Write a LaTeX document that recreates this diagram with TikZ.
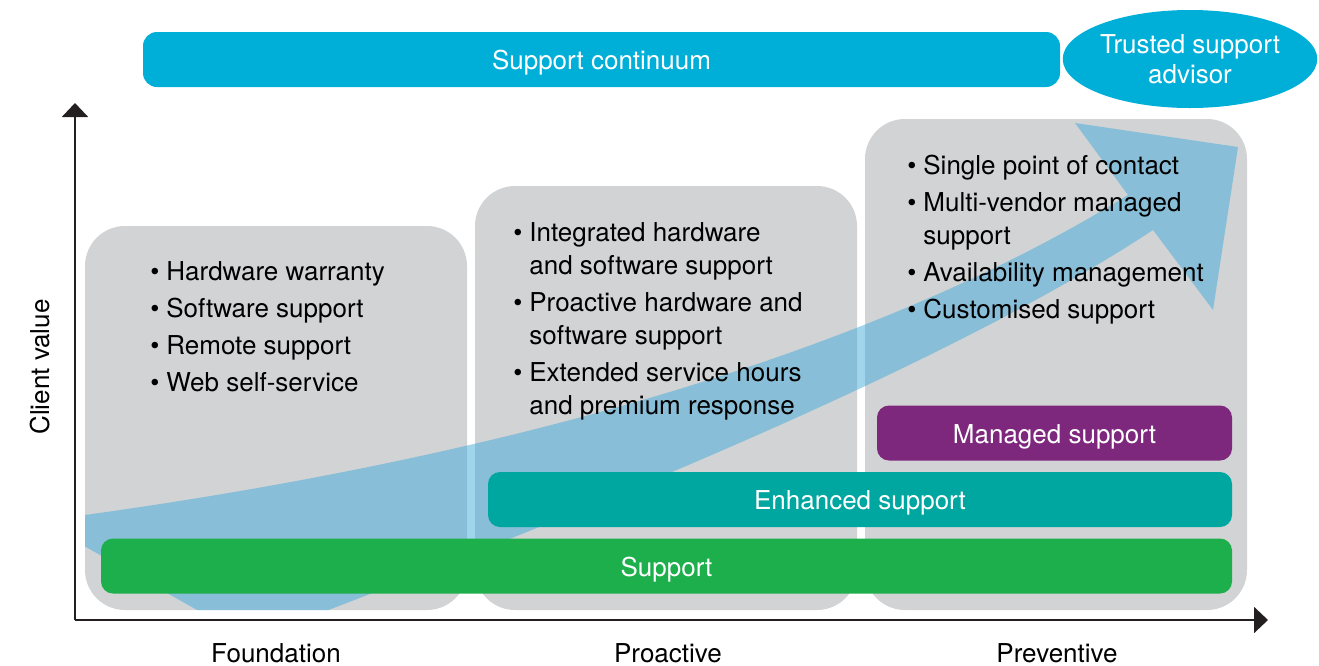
\documentclass[tikz,border=0pt]{standalone}
\usepackage{fontspec}
\setmainfont{TeX Gyre Heros}
\usetikzlibrary{shapes,arrows.meta,positioning}

\definecolor{boxgray}{HTML}{D1D3D4}
\definecolor{cyanbar}{HTML}{00AFD8}
\definecolor{greenbar}{HTML}{1DAF4B}
\definecolor{tealbar}{HTML}{00A6A0}
\definecolor{purplebar}{HTML}{7D287D}
\definecolor{flowblue}{RGB}{65,171,218}
\definecolor{axisgray}{HTML}{231F20}

\newcommand{\stagebullet}{\llap{\textbullet\hspace{3.5pt}}}

\begin{document}
\begin{tikzpicture}[x=0.5pt,y=-0.5pt,
		every node/.style={font=\fontsize{13}{16.5}\selectfont},
		stage/.style={fill=boxgray, rounded corners=20pt, minimum width=191pt, inner sep=0pt},
		bar/.style={rounded corners=6pt, text=white, minimum height=27.5pt, inner sep=0pt, text height=12pt, text depth=2pt},
		items/.style={anchor=base west, align=left, inner sep=0pt},
		axis/.style={draw=axisgray, line width=1pt, -{Triangle[length=7pt,width=13pt]}}]
		\useasboundingbox (0,0) rectangle (1319,665);

		% stages
		\node[stage, minimum height=192pt] (box1) at (276,418) {};
		\node[stage, minimum height=212pt] (box2) at (666,398) {};
		\node[stage, minimum height=245.5pt] (box3) at (1056,364.5) {};

		% growing value arrow
		\begin{scope}
			\clip[rounded corners=20pt] (85,119) rectangle (1247,610);
			\fill[flowblue, fill opacity=0.5] (40,521) .. controls (450,468) and (850,367) .. (1128,195)
				-- (1075,123) -- (1238,147) -- (1213,310) -- (1153,230)
				.. controls (950,364) and (600,507) .. (250,640) -- cycle;
		\end{scope}

		% lists (anchored at the last line)
		\node[items] (list1) at (166,391) {\stagebullet Hardware warranty\\[2pt]
			\stagebullet Software support\\[2pt]
			\stagebullet Remote support\\[2pt]
			\stagebullet Web self-service};
		\node[items] (list2) at (529,414) {\stagebullet Integrated hardware\\and software support\\[2pt]
			\stagebullet Proactive hardware and\\software support\\[2pt]
			\stagebullet Extended service hours\\and premium response};
		\node[items] (list3) at (923,318) {\stagebullet Single point of contact\\[2pt]
			\stagebullet Multi-vendor managed\\support\\[2pt]
			\stagebullet Availability management\\[2pt]
			\stagebullet Customised support};

		% levels
		\node[bar, fill=greenbar, minimum width=565.5pt] (support) at (666.5,566) {Support};
		\node[bar, fill=tealbar, minimum width=372pt] (enhanced) at (860,499.5) {Enhanced support};
		\node[bar, fill=purplebar, minimum width=177.5pt] (managed) at (1054.5,433) {Managed support};

		\node[bar, fill=cyanbar, rounded corners=7pt, minimum width=458.5pt] (continuum) at (601.5,59.5) {Support continuum};
		\node[ellipse, fill=cyanbar, text=white, minimum width=118.5pt, minimum height=49pt, inner sep=0pt,
			align=center, font=\fontsize{13}{15}\selectfont] (advisor) at (1190,59) {Trusted support\\advisor};

		% axes
		\coordinate (origin) at (75,620);
		\coordinate (ytip) at (75,103);
		\coordinate (xtip) at (1268,620);
		\draw[axis] (origin.center) -- (ytip);
		\draw[axis] (origin.center) -- (xtip);
		\node[rotate=90] (yname) at (40,367) {Client value};
		\node[anchor=base] (foundation) at (276,662) {Foundation};
		\node[anchor=base] (proactive) at (668,662) {Proactive};
		\node[anchor=base] (preventive) at (1057,662) {Preventive};
\end{tikzpicture}
\end{document}
